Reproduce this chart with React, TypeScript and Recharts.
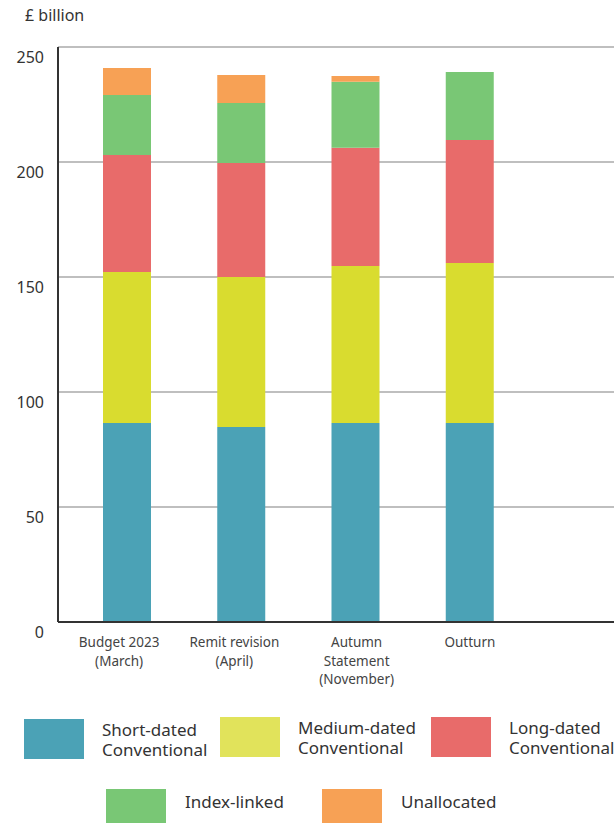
import React from 'react';
import { BarChart, Bar, XAxis, YAxis, CartesianGrid } from 'recharts';

const CATEGORIES = ['Budget 2023\n(March)', 'Remit revision\n(April)', 'Autumn\nStatement\n(November)', 'Outturn'];
const SHORT = [86.5, 84.8, 86.5, 86.5];
const MEDIUM = [65.7, 65.2, 68.3, 69.6];
const LONG = [50.8, 49.6, 51.4, 53.5];
const INDEX_LINKED = [26.1, 26.1, 28.7, 29.5];
const UNALLOCATED = [11.8, 12.1, 2.5, 0];
const Y_TICKS = [0, 50, 100, 150, 200, 250];

const FONT = '"Noto Sans", "Open Sans", sans-serif';

const SERIES = [
  { key: 'short', name: 'Short-dated\nConventional', fill: '#4BA2B6', legend: '#4BA2B6' },
  { key: 'medium', name: 'Medium-dated\nConventional', fill: '#D9DC2F', legend: '#E1E35B' },
  { key: 'long', name: 'Long-dated\nConventional', fill: '#E86B6A', legend: '#E86B6A' },
  { key: 'index', name: 'Index-linked', fill: '#79C775', legend: '#79C775' },
  { key: 'unalloc', name: 'Unallocated', fill: '#F7A155', legend: '#F7A155' },
];

const data = CATEGORIES.map((c, i) => ({
  cat: c,
  short: SHORT[i],
  medium: MEDIUM[i],
  long: LONG[i],
  index: INDEX_LINKED[i],
  unalloc: UNALLOCATED[i],
}));

// small horizontal nudges so the wrapped labels sit where the original's do
const TICK_NUDGE = [-8, -7, 1, 0];

function XTick({ x, y, payload, index }: any) {
  const lines = String(payload.value).split('\n');
  const cx = x + (TICK_NUDGE[index] ?? 0);
  return (
    <text x={cx} y={y + 17} textAnchor="middle" fill="#444" fontSize={13.5} fontFamily={FONT}>
      {lines.map((l, i) => (
        <tspan key={i} x={cx} dy={i === 0 ? 0 : 18.5}>{l}</tspan>
      ))}
    </text>
  );
}

function YTick({ y, payload }: any) {
  return (
    <text x={44} y={y + 16} textAnchor="end" fill="#333" fontSize={16} fontFamily={FONT}>
      {payload.value}
    </text>
  );
}

function LegendItem({ left, top, h, color, label, textLeft }: { left: number; top: number; h: number; color: string; label: string; textLeft: number }) {
  const lines = label.split('\n');
  return (
    <>
      <div style={{ position: 'absolute', left, top, width: 60, height: h, background: color }} />
      <div style={{ position: 'absolute', left: textLeft, top: lines.length > 1 ? top + 1 : top + 3, fontSize: 17, lineHeight: '20px', color: '#333', fontFamily: FONT, whiteSpace: 'pre' }}>
        {label}
      </div>
    </>
  );
}

export default function App() {
  return (
    <div style={{ position: 'absolute', left: 0, top: 0, width: 614, height: 823, overflow: 'hidden', background: '#fff', fontFamily: FONT }}>
      <div style={{ position: 'absolute', left: 25, top: 4, fontSize: 16, color: '#333' }}>£ billion</div>
      <BarChart width={614} height={700} data={data} margin={{ top: 47, right: 0, left: 0, bottom: 0 }} barSize={48}>
        <CartesianGrid vertical={false} stroke="#aaa" strokeWidth={1.5} />
        <XAxis
          dataKey="cat"
          height={78}
          padding={{ left: 12, right: 87 }}
          axisLine={{ stroke: '#333', strokeWidth: 2 }}
          tickLine={false}
          tick={<XTick />}
          interval={0}
        />
        <YAxis
          width={58}
          domain={[0, 250]}
          ticks={Y_TICKS}
          axisLine={{ stroke: '#333', strokeWidth: 2 }}
          tickLine={false}
          tick={<YTick />}
        />
        {SERIES.map(s => (
          <Bar key={s.key} dataKey={s.key} stackId="a" fill={s.fill} isAnimationActive={false} />
        ))}
      </BarChart>
      <LegendItem left={24} top={719} h={40} color={SERIES[0].legend} label={SERIES[0].name} textLeft={102} />
      <LegendItem left={220} top={717} h={40} color={SERIES[1].legend} label={SERIES[1].name} textLeft={298} />
      <LegendItem left={431} top={717} h={40} color={SERIES[2].legend} label={SERIES[2].name} textLeft={509} />
      <LegendItem left={106} top={789} h={34} color={SERIES[3].legend} label={SERIES[3].name} textLeft={185} />
      <LegendItem left={322} top={789} h={34} color={SERIES[4].legend} label={SERIES[4].name} textLeft={401} />
    </div>
  );
}
